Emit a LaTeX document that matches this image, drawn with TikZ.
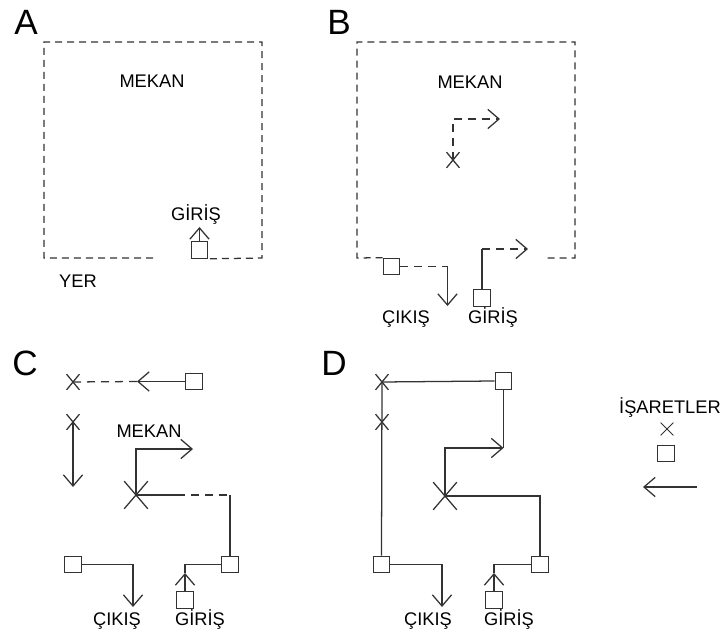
\documentclass[tikz,border=0pt]{standalone}
\usepackage{fontspec}
\setmainfont{Liberation Sans}
\usepackage{tikz}
\usetikzlibrary{arrows.meta,shapes.misc}
\definecolor{planInk}{HTML}{333333}
\tikzset{
  wall/.style={draw=planInk, line width=0.9pt,
    dash pattern=on 1.75mm off 1.25mm},
  route/.style={draw=planInk, line width=0.9pt},
  dashed route/.style={route, dash pattern=on 2mm off 1.5mm},
  go/.style={-{Straight Barb[length=2.8mm, width=4.8mm]}},
  door/.style={rectangle, draw=planInk, line width=0.9pt, fill=white,
    minimum size=4.1mm, inner sep=0pt},
  stop mark/.style={cross out, draw=planInk, line width=0.9pt,
    minimum width=2.9mm, minimum height=3.6mm, inner sep=0pt},
  hub mark/.style={stop mark, minimum width=5.6mm, minimum height=6.6mm},
  plan label/.style={anchor=base, inner sep=0pt,
    font=\fontsize{13}{15}\selectfont},
  panel letter/.style={anchor=base, inner sep=0pt,
    font=\fontsize{25}{30}\selectfont}
}

\begin{document}
\begin{tikzpicture}[x=0.25mm, y=-0.25mm]
  \useasboundingbox (0,0) rectangle (724,639);

  % A
  \node[panel letter] (letterA) at (26,35) {A};
  \node[plan label] (mekanA) at (152,88) {MEKAN};
  \node[plan label] (yerA) at (78,288) {YER};
  \node[door] (entryA) at (199.5,250) {};
  \node[plan label] (girisA) at (196,221) {GİRİŞ};
  \coordinate (tipA) at (199.5,227);
  \draw[wall] (153,258) -- (44,258) -- (44,42) -- (262,42) -- (262,258)
    -- (entryA.south east);
  \draw[route, go] (entryA.north) -- (tipA);

  % B
  \node[panel letter] (letterB) at (339,35) {B};
  \node[plan label] (mekanB) at (470,89) {MEKAN};
  \node[door] (exitB) at (391.5,266.5) {};
  \node[door] (entryB) at (482,298) {};
  \node[stop mark] (stopB) at (453,160) {};
  \node[plan label] (cikisB) at (406,324) {ÇIKIŞ};
  \node[plan label] (girisB) at (493,324) {GİRİŞ};
  \coordinate (cornerB1) at (447.5,266.5);
  \coordinate (tipB1) at (447.5,306);
  \coordinate (cornerB2) at (482,249);
  \coordinate (tipB2) at (528,249);
  \coordinate (tipB3) at (500,119);
  \draw[wall] (exitB.north west) -- (357,258) -- (357,42) -- (575,42)
    -- (575,258) -- (545,258);
  \draw[dashed route] (exitB.east) -- (cornerB1);
  \draw[route, go] (cornerB1) -- (tipB1);
  \draw[route] (entryB.north) -- (cornerB2);
  \draw[dashed route, go] (cornerB2) -- (tipB2);
  \draw[dashed route, go] (stopB.center) |- (tipB3);

  % C
  \node[panel letter] (letterC) at (25,376) {C};
  \node[plan label] (mekanC) at (149,438) {MEKAN};
  \node[door] (startC) at (194,381.5) {};
  \node[stop mark] (stopC1) at (73,382) {};
  \node[stop mark] (stopC2) at (73,422) {};
  \node[hub mark] (hubC) at (136,495) {};
  \node[door] (turnC) at (230,564.5) {};
  \node[door] (exitC) at (73,564.5) {};
  \node[door] (entryC) at (185,600) {};
  \node[plan label] (cikisC) at (117,625) {ÇIKIŞ};
  \node[plan label] (girisC) at (200,625) {GİRİŞ};
  \coordinate (tipC1) at (137,381.5);
  \coordinate (tipC2) at (73,487);
  \coordinate (tipC3) at (193,449);
  \coordinate (breakC) at (177,495);
  \coordinate (cornerC) at (230,495);
  \coordinate (tipC4) at (185,573);
  \coordinate (tipC5) at (133,607);
  \draw[route, go] (startC.west) -- (tipC1);
  \draw[dashed route] (tipC1) -- (stopC1.center);
  \draw[route, go] (stopC2.center) -- (tipC2);
  \draw[route, go] (hubC.center) |- (tipC3);
  \draw[route] (hubC.center) -- (breakC);
  \draw[dashed route] (breakC) -- (cornerC);
  \draw[route] (cornerC) -- (turnC.north);
  \draw[route, go] (entryC.north) -- (tipC4);
  \draw[route] (tipC4) |- (turnC.west);
  \draw[route, go] (exitC.east) -| (tipC5);

  % D
  \node[panel letter] (letterD) at (334,376) {D};
  \node[door] (startD) at (503.5,381) {};
  \node[stop mark] (stopD1) at (382,382) {};
  \node[stop mark] (stopD2) at (382,422) {};
  \node[hub mark] (hubD) at (445,496) {};
  \node[door] (exitD) at (381.5,564.5) {};
  \node[door] (turnD) at (540,564.5) {};
  \node[door] (entryD) at (494,600) {};
  \node[plan label] (cikisD) at (428,625) {ÇIKIŞ};
  \node[plan label] (girisD) at (509,625) {GİRİŞ};
  \coordinate (cornerD) at (503.5,448);
  \coordinate (tipD1) at (494,573);
  \coordinate (tipD2) at (442,607);
  \draw[route] (stopD1.center) -- (startD.west);
  \draw[route] (stopD1.center) -- (exitD.north);
  \draw[route] (startD.south) -- (cornerD);
  \draw[route, go] (hubD.center) |- (cornerD);
  \draw[route] (hubD.center) -| (turnD.north);
  \draw[route, go] (entryD.north) -- (tipD1);
  \draw[route] (tipD1) |- (turnD.west);
  \draw[route, go] (exitD.east) -| (tipD2);

  % legend
  \node[plan label] (legendTitle) at (670,414) {İŞARETLER};
  \node[stop mark, line width=0.6pt, minimum width=3mm,
    minimum height=3mm] (legendStop) at (667,429) {};
  \node[door] (legendDoor) at (666,453.5) {};
  \coordinate (legendFrom) at (697,487);
  \coordinate (legendTo) at (643,487);
  \draw[route, go] (legendFrom) -- (legendTo);
\end{tikzpicture}
\end{document}
